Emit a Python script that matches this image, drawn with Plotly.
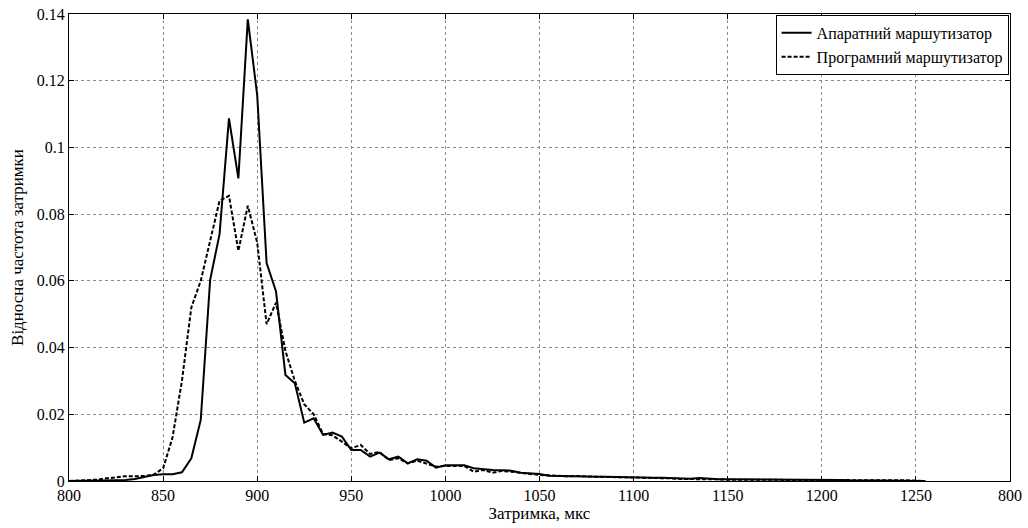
import plotly.graph_objects as go

delay_us = list(range(800, 1260, 5))

hardware_freq = [
    0, 0, 0, 0.0001, 0.0002, 0.0002, 0.0003, 0.0006, 0.0012, 0.0018,
    0.002, 0.002, 0.0026, 0.0068, 0.0183, 0.0603, 0.074, 0.1087, 0.0907, 0.1384,
    0.1157, 0.0653, 0.0568, 0.0318, 0.0293, 0.0175, 0.0188, 0.0138, 0.0145, 0.0133,
    0.0093, 0.0093, 0.0073, 0.0085, 0.0065, 0.0073, 0.0053, 0.0065, 0.0061, 0.0040,
    0.0047, 0.0047, 0.0047, 0.0038, 0.0035, 0.0033, 0.0032, 0.0031, 0.0025, 0.0023,
    0.0021, 0.0016, 0.0015, 0.0015, 0.0015, 0.0014, 0.0013, 0.0013, 0.0012, 0.0012,
    0.0011, 0.0010, 0.0010, 0.0010, 0.0009, 0.0008, 0.0007, 0.0009, 0.0006, 0.0005,
    0.0005, 0.0005, 0.0004, 0.0004, 0.0004, 0.0004, 0.0003, 0.0003, 0.0003, 0.0003,
    0.0003, 0.0003, 0.0003, 0.0002, 0.0002, 0.0002, 0.0002, 0.0002, 0.0002, 0.0001,
    0.0001, 0,
]

software_freq = [
    0, 0.0001, 0.0002, 0.0004, 0.0008, 0.0012, 0.0014, 0.0014, 0.0015, 0.0019,
    0.0038, 0.013, 0.030, 0.052, 0.060, 0.072, 0.084, 0.0855, 0.069, 0.0825,
    0.0715, 0.047, 0.0535, 0.039, 0.030, 0.023, 0.020, 0.0141, 0.0137, 0.0118,
    0.0098, 0.0108, 0.0081, 0.0087, 0.0063, 0.0068, 0.0053, 0.0061, 0.0051, 0.0043,
    0.0045, 0.0046, 0.0045, 0.0028, 0.0033, 0.0025, 0.0030, 0.0028, 0.0024, 0.0022,
    0.0018, 0.0017, 0.0015, 0.0014, 0.0015, 0.0013, 0.0013, 0.0012, 0.0012, 0.0011,
    0.0011, 0.0010, 0.0009, 0.0009, 0.0008, 0.0006, 0.0006, 0.0007, 0.0005, 0.0005,
    0.0004, 0.0004, 0.0004, 0.0003, 0.0004, 0.0003, 0.0003, 0.0003, 0.0002, 0.0003,
    0.0002, 0.0002, 0.0002, 0.0002, 0.0002, 0.0002, 0.0002, 0.0003, 0.0002, 0.0002,
    0.0001, 0,
]

x_tick_vals = [800, 850, 900, 950, 1000, 1050, 1100, 1150, 1200, 1250, 1300]
x_tick_text = ["800", "850", "900", "950", "1000", "1050", "1100", "1150", "1200", "1250", "800"]
y_tick_vals = [0, 0.02, 0.04, 0.06, 0.08, 0.1, 0.12, 0.14]
y_tick_text = ["0", "0.02", "0.04", "0.06", "0.08", "0.1", "0.12", "0.14"]

FONT = "Liberation Serif"

fig = go.Figure()
fig.add_trace(go.Scatter(
    x=delay_us, y=hardware_freq, mode="lines",
    name="Апаратний маршутизатор",
    line=dict(color="black", width=2),
))
fig.add_trace(go.Scatter(
    x=delay_us, y=software_freq, mode="lines",
    name="Програмний маршутизатор",
    line=dict(color="black", width=2, dash="4px,2px"),
))

axis_common = dict(
    showline=True, linecolor="black", linewidth=1, mirror="ticks",
    ticks="inside", ticklen=5, tickcolor="black", tickwidth=1,
    showgrid=True, gridcolor="#8a8a8a", gridwidth=1, griddash="dot",
    zeroline=False, ticklabeloverflow="allow", automargin=False,
    tickfont=dict(family=FONT, size=16, color="black"),
)

fig.update_layout(
    width=1028, height=528,
    margin=dict(l=69, r=18, t=14, b=47, autoexpand=False),
    paper_bgcolor="white", plot_bgcolor="white",
    font=dict(family=FONT, size=16, color="black"),
    showlegend=True,
    legend=dict(
        x=0.9985, y=0.998, xanchor="right", yanchor="top",
        bgcolor="white", bordercolor="black", borderwidth=1,
        font=dict(family=FONT, size=16, color="black"),
        tracegroupgap=0, itemwidth=30,
    ),
)
fig.update_xaxes(
    range=[800, 1300], tickvals=x_tick_vals, ticktext=x_tick_text,
    title=dict(text="Затримка, мкс", font=dict(family=FONT, size=17), standoff=0),
    **axis_common,
)
fig.update_yaxes(
    range=[0, 0.14], tickvals=y_tick_vals, ticktext=y_tick_text,
    title=dict(text="Відносна частота затримки", font=dict(family=FONT, size=17), standoff=8),
    **axis_common,
)

fig.write_html(
    "out.html",
    config={"displayModeBar": False},
    post_script="document.body.style.margin='0';document.body.style.overflow='hidden';",
)
